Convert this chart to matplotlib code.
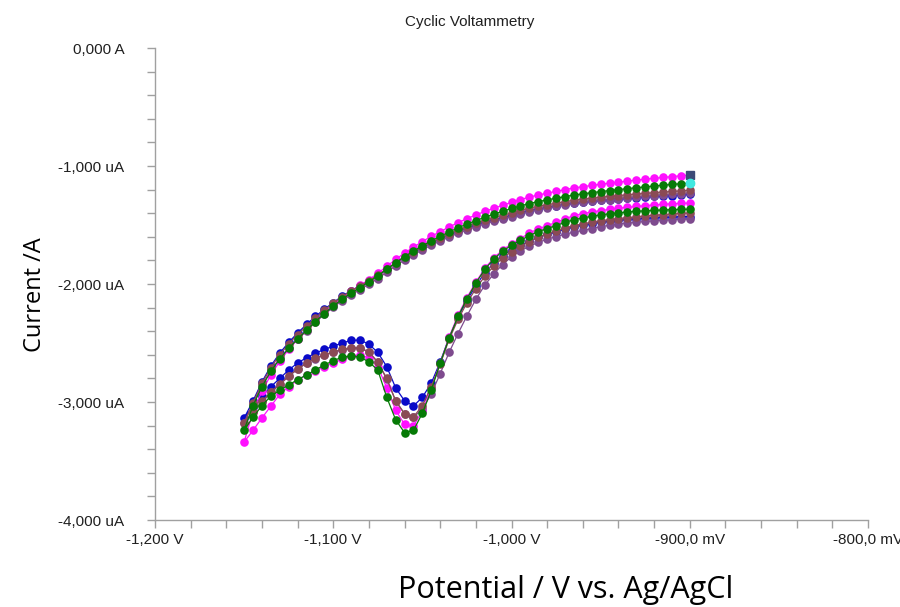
import matplotlib
matplotlib.use("Agg")
import matplotlib.pyplot as plt
from matplotlib.ticker import FixedLocator, MultipleLocator

# ---------------- data (mV, uA) ----------------
# forward (cathodic) sweep potentials -900 ... -1145 mV
E_fwd = [-900, -905, -910, -915, -920, -925, -930, -935, -940, -945,
         -950, -955, -960, -965, -970, -975, -980, -985, -990, -995,
         -1000, -1005, -1010, -1015, -1020, -1025, -1030, -1035, -1040, -1045,
         -1050, -1055, -1060, -1065, -1070, -1075, -1080, -1085, -1090, -1095,
         -1100, -1105, -1110, -1115, -1120, -1125, -1130, -1135, -1140, -1145]
# reverse sweep potentials -1150 ... -900 mV
E_rev = [-1150, -1145, -1140, -1135, -1130, -1125, -1120, -1115, -1110, -1105,
         -1100, -1095, -1090, -1085, -1080, -1075, -1070, -1065, -1060, -1055,
         -1050, -1045, -1040, -1035, -1030, -1025, -1020, -1015, -1010, -1005,
         -1000, -995, -990, -985, -980, -975, -970, -965, -960, -955,
         -950, -945, -940, -935, -930, -925, -920, -915, -910, -905, -900]

blue_fwd = [-1241, -1245, -1250, -1254, -1258, -1263, -1268, -1274, -1280, -1286,
            -1292, -1300, -1307, -1315, -1326, -1339, -1351, -1364, -1378, -1398,
            -1418, -1437, -1456, -1477, -1502, -1527, -1555, -1586, -1619, -1653,
            -1692, -1734, -1777, -1824, -1875, -1927, -1972, -2014, -2057, -2102,
            -2158, -2213, -2275, -2343, -2415, -2495, -2585, -2695, -2830, -2990]
blue_rev = [-3136, -3040, -2950, -2870, -2800, -2729, -2669, -2625, -2585, -2555,
            -2527, -2500, -2478, -2475, -2510, -2580, -2700, -2880, -2990, -3034,
            -2960, -2840, -2660, -2455, -2280, -2140, -2015, -1905, -1825, -1760,
            -1712, -1672, -1635, -1604, -1580, -1557, -1535, -1515, -1500, -1488,
            -1477, -1468, -1460, -1453, -1447, -1442, -1438, -1435, -1432, -1430, -1428]

magenta_fwd = [-1076, -1083, -1090, -1097, -1104, -1112, -1120, -1128, -1137, -1146,
               -1155, -1165, -1175, -1186, -1200, -1215, -1230, -1246, -1263, -1285,
               -1308, -1333, -1358, -1385, -1415, -1446, -1480, -1517, -1556, -1596,
               -1640, -1688, -1737, -1792, -1850, -1910, -1962, -2012, -2062, -2115,
               -2178, -2243, -2315, -2393, -2470, -2555, -2655, -2770, -2910, -3080]
magenta_rev = [-3339, -3240, -3135, -3035, -2935, -2870, -2815, -2770, -2735, -2700,
               -2668, -2638, -2612, -2600, -2625, -2700, -2880, -3068, -3190, -3203,
               -3075, -2880, -2670, -2450, -2265, -2115, -1985, -1868, -1780, -1712,
               -1660, -1615, -1568, -1532, -1505, -1478, -1448, -1420, -1404, -1390,
               -1378, -1368, -1358, -1350, -1343, -1336, -1330, -1325, -1320, -1317, -1314]

brown_fwd = [-1206, -1211, -1216, -1221, -1226, -1232, -1238, -1244, -1251, -1258,
             -1265, -1273, -1281, -1290, -1302, -1315, -1328, -1342, -1357, -1377,
             -1398, -1418, -1439, -1461, -1487, -1513, -1542, -1575, -1609, -1645,
             -1684, -1728, -1772, -1821, -1872, -1926, -1972, -2016, -2059, -2106,
             -2163, -2221, -2287, -2358, -2428, -2507, -2600, -2708, -2842, -3005]
brown_rev = [-3178, -3085, -2995, -2915, -2850, -2780, -2720, -2670, -2630, -2600,
             -2575, -2555, -2542, -2540, -2575, -2661, -2800, -2990, -3100, -3127,
             -3030, -2870, -2680, -2470, -2300, -2160, -2040, -1935, -1850, -1780,
             -1725, -1680, -1640, -1605, -1575, -1548, -1525, -1505, -1490, -1477,
             -1465, -1455, -1446, -1438, -1431, -1424, -1418, -1412, -1407, -1402, -1398]

green_fwd = [-1144, -1150, -1156, -1163, -1170, -1177, -1184, -1192, -1200, -1208,
             -1217, -1226, -1236, -1246, -1259, -1273, -1287, -1302, -1318, -1338,
             -1360, -1384, -1408, -1434, -1463, -1492, -1524, -1559, -1596, -1634,
             -1676, -1721, -1768, -1820, -1875, -1932, -1982, -2030, -2078, -2128,
             -2188, -2250, -2318, -2392, -2466, -2545, -2635, -2740, -2870, -3030]
green_rev = [-3237, -3130, -3030, -2950, -2900, -2856, -2810, -2771, -2728, -2686,
             -2650, -2620, -2610, -2620, -2660, -2730, -2960, -3150, -3260, -3240,
             -3095, -2900, -2670, -2458, -2275, -2125, -1993, -1876, -1790, -1722,
             -1672, -1630, -1590, -1556, -1530, -1505, -1478, -1455, -1440, -1426,
             -1414, -1405, -1397, -1390, -1384, -1380, -1376, -1373, -1370, -1368, -1366]

purple_fwd = [-1229, -1234, -1240, -1245, -1250, -1257, -1263, -1269, -1277, -1284,
              -1291, -1300, -1308, -1317, -1330, -1343, -1356, -1371, -1386, -1406,
              -1428, -1448, -1468, -1490, -1515, -1541, -1570, -1602, -1636, -1671,
              -1710, -1753, -1797, -1847, -1900, -1955, -2002, -2047, -2092, -2140,
              -2198, -2258, -2325, -2398, -2470, -2545, -2630, -2730, -2860, -3015]
purple_rev = [-3180, -3088, -2998, -2918, -2852, -2783, -2722, -2672, -2632, -2602,
              -2578, -2558, -2545, -2543, -2578, -2665, -2805, -2990, -3100, -3130,
              -3060, -2930, -2760, -2580, -2420, -2270, -2130, -2010, -1915, -1835,
              -1770, -1720, -1680, -1648, -1620, -1598, -1578, -1560, -1545, -1530,
              -1515, -1502, -1492, -1484, -1477, -1470, -1465, -1460, -1456, -1452, -1449]

# last-point markers at the end of the scan
end_E = [-900, -900]
end_I = [-1076, -1144]

x_ticks = [-1200, -1100, -1000, -900, -800]
x_labels = ["-1,200 V", "-1,100 V", "-1,000 V", "-900,0 mV", "-800,0 mV"]
y_ticks = [0, -1000, -2000, -3000, -4000]
y_labels = ["0,000 A", "-1,000 uA", "-2,000 uA", "-3,000 uA", "-4,000 uA"]

series = [
    ("#0a0ac8", blue_fwd, blue_rev),
    ("#7e4b8e", purple_fwd, purple_rev),
    ("#ff10ff", magenta_fwd, magenta_rev),
    ("#8a4a55", brown_fwd, brown_rev),
    ("#067a06", green_fwd, green_rev),
]

# ---------------- figure ----------------
plt.rcParams['font.family'] = ['Liberation Sans', 'DejaVu Sans']
fig = plt.figure(figsize=(9.0, 6.07), dpi=100)
ax = fig.add_axes([155 / 900, 1 - 520 / 607, 713 / 900, 472 / 607])

E_all = E_fwd + E_rev
for color, fwd, rev in series:
    ax.plot(E_all, fwd + rev, color=color, lw=0.9, marker='o', ms=6.2,
            mec=color, mfc=color, mew=0, zorder=3)

ax.plot(end_E[:1], end_I[:1], marker='s', ls='none', ms=6, color='#3c4a78', zorder=4)
ax.plot(end_E[1:], end_I[1:], marker='o', ls='none', ms=6, color='#40e8e0', zorder=4)

ax.set_xlim(-1200, -800)
ax.set_ylim(-4000, 0)

ax.xaxis.set_major_locator(FixedLocator(x_ticks))
ax.set_xticklabels(x_labels)
ax.yaxis.set_major_locator(FixedLocator(y_ticks))
ax.set_yticklabels(y_labels)
ax.xaxis.set_minor_locator(MultipleLocator(20))
ax.yaxis.set_minor_locator(MultipleLocator(200))

for s in ['top', 'right']:
    ax.spines[s].set_visible(False)
for s in ['left', 'bottom']:
    ax.spines[s].set_color('#a0a0a0')
    ax.spines[s].set_linewidth(1.0)

ax.tick_params(which='both', direction='out', color='#a0a0a0', width=1.0, length=6)
ax.tick_params(axis='x', which='major', labelsize=11, pad=3, labelcolor='#202020')
ax.tick_params(axis='y', which='major', labelsize=11, pad=16, labelcolor='#202020')
for lab in ax.get_xticklabels():
    lab.set_clip_on(False)

ax.set_ylabel("Current /A", fontsize=17, family=['Open Sans', 'DejaVu Sans'])
ax.yaxis.set_label_coords(-0.151, 0.477)
ax.set_xlabel("Potential / V vs. Ag/AgCl", fontsize=22, family=['Open Sans', 'DejaVu Sans'])
ax.xaxis.set_label_coords(0.576, -0.117)

fig.text(470 / 900, 1 - 22 / 607, "Cyclic Voltammetry", ha='center', va='center',
         fontsize=11, color='#202020')

fig.savefig("out.png", dpi=100)
